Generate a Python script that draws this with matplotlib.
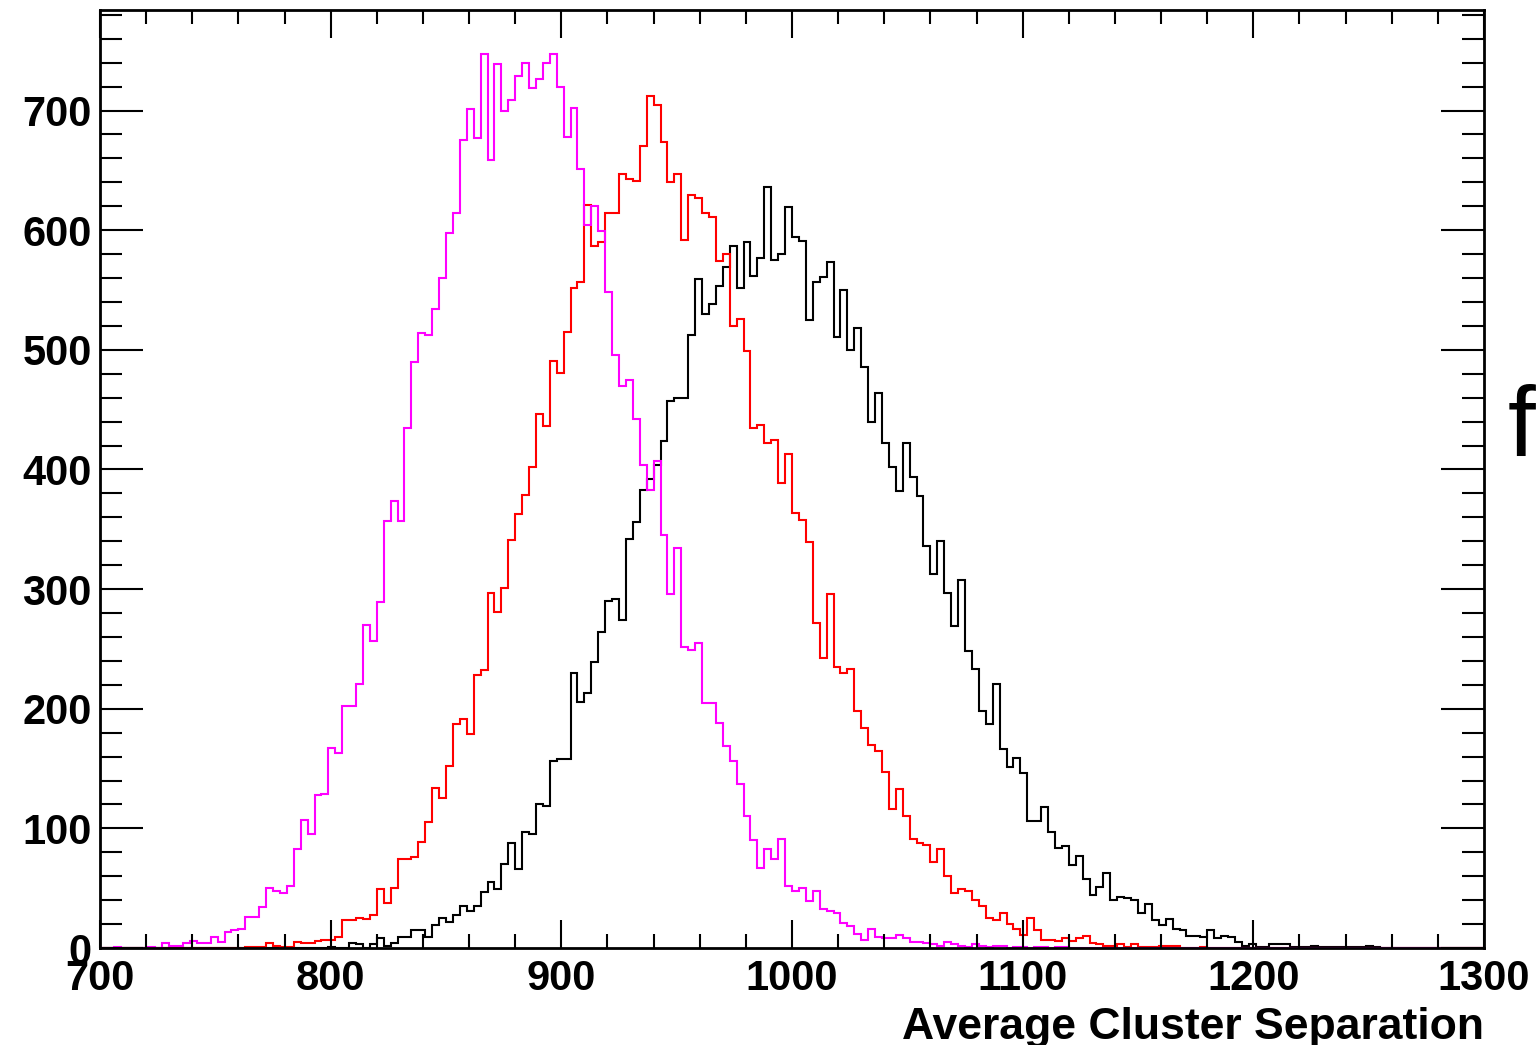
import matplotlib

matplotlib.use("Agg")
import matplotlib.pyplot as plt
import numpy as np
from matplotlib.ticker import MultipleLocator

# 200 bins of width 3 between 700 and 1300
X_MIN, X_MAX, N_BINS = 700, 1300, 200

MAGENTA = [
    0, 0, 1, 0, 0, 0, 0, 1, 0, 4,
    2, 2, 4, 6, 4, 4, 9, 5, 13, 15,
    16, 26, 26, 34, 50, 48, 46, 52, 83, 107,
    95, 128, 129, 167, 163, 202, 202, 221, 270, 257,
    289, 357, 374, 357, 435, 490, 514, 512, 534, 560,
    598, 614, 675, 701, 677, 747, 659, 739, 700, 709,
    729, 740, 719, 726, 740, 747, 720, 678, 702, 651,
    604, 620, 599, 548, 496, 470, 475, 442, 404, 383,
    407, 345, 296, 334, 252, 249, 255, 205, 205, 188,
    169, 156, 137, 110, 90, 67, 83, 74, 91, 52,
    48, 50, 39, 48, 33, 31, 29, 21, 18, 12,
    7, 16, 9, 8, 8, 11, 8, 5, 5, 4,
    3, 2, 5, 3, 2, 1, 3, 2, 1, 2,
    2, 0, 1, 1, 0, 1, 1, 0, 1, 1,
] + [0] * 60

RED = [0] * 20 + [
    0, 1, 1, 1, 4, 2, 1, 1, 5, 4,
    4, 6, 7, 7, 9, 23, 23, 25, 24, 28,
    49, 38, 50, 74, 74, 76, 89, 105, 134, 125,
    152, 187, 191, 179, 228, 232, 297, 281, 301, 341,
    363, 379, 402, 446, 436, 491, 481, 515, 552, 557,
    621, 587, 590, 614, 614, 647, 643, 641, 670, 712,
    705, 674, 640, 647, 592, 629, 627, 614, 611, 574,
    580, 520, 526, 499, 435, 437, 422, 425, 389, 413,
    364, 358, 339, 272, 242, 296, 235, 230, 233, 198,
    184, 170, 165, 147, 116, 133, 110, 91, 88, 86,
    72, 83, 60, 46, 49, 48, 40, 35, 25, 23,
    29, 20, 16, 11, 25, 15, 7, 7, 6, 8,
    6, 8, 10, 4, 3, 2, 2, 3, 1, 3,
    1, 1, 1, 2, 2, 2, 0, 0, 0, 1,
] + [0] * 40

BLACK = [0] * 30 + [
    0, 0, 0, 1, 0, 0, 4, 3, 0, 3,
    8, 2, 4, 9, 9, 15, 15, 9, 19, 25,
    22, 28, 35, 31, 35, 47, 55, 49, 70, 88,
    66, 97, 95, 120, 119, 156, 158, 158, 230, 206,
    213, 239, 264, 290, 292, 274, 342, 356, 383, 392,
    404, 424, 457, 460, 460, 512, 559, 530, 538, 553,
    569, 587, 552, 590, 562, 577, 636, 575, 580, 619,
    594, 591, 525, 557, 561, 573, 511, 550, 500, 518,
    486, 440, 464, 422, 402, 382, 422, 394, 378, 336,
    313, 340, 297, 269, 308, 248, 233, 198, 187, 221,
    166, 151, 159, 146, 106, 106, 118, 97, 84, 85,
    69, 77, 58, 44, 51, 63, 40, 43, 42, 40,
    29, 37, 23, 19, 24, 16, 15, 10, 10, 9,
    15, 8, 10, 9, 5, 2, 3, 1, 1, 3,
    3, 3, 1, 1, 1, 2, 1, 1, 1, 1,
    1, 1, 1, 2, 1,
] + [0] * 15

X_LABEL = "Average Cluster Separation"

plt.rcParams.update({
    "font.family": ["Liberation Sans", "DejaVu Sans"],
    "font.weight": "bold",
})

W, H = 1537, 1045
fig = plt.figure(figsize=(W / 100, H / 100), dpi=100)
ax = fig.add_axes([100 / W, (H - 948) / H, 1384 / W, 938 / H])

edges = np.linspace(X_MIN, X_MAX, N_BINS + 1)
for values, color in ((BLACK, "black"), (RED, "#ff0000"), (MAGENTA, "#ff00ff")):
    ax.stairs(values, edges, color=color, lw=1.5)

ax.set_xlim(X_MIN, X_MAX)
ax.set_ylim(0, 784)
ax.xaxis.set_major_locator(MultipleLocator(100))
ax.xaxis.set_minor_locator(MultipleLocator(20))
ax.yaxis.set_major_locator(MultipleLocator(100))
ax.yaxis.set_minor_locator(MultipleLocator(20))

ax.tick_params(which="both", direction="in", top=True, right=True,
               width=1.5, colors="black", labelsize=30)
ax.tick_params(axis="x", which="major", length=20, pad=8)
ax.tick_params(axis="x", which="minor", length=10)
ax.tick_params(axis="y", which="major", length=31, pad=6)
ax.tick_params(axis="y", which="minor", length=16)
for lab in ax.get_xticklabels() + ax.get_yticklabels():
    lab.set_fontweight("bold")
for spine in ax.spines.values():
    spine.set_linewidth(2.0)

fig.text(1484 / W, 6 / H, X_LABEL, ha="right", va="baseline",
         fontsize=32, fontweight="bold")
# clipped letter at the right edge of the canvas
fig.text(1508 / W, (H - 457) / H, "f", ha="left", va="baseline",
         fontsize=72, fontweight="normal")

fig.savefig("out.png", dpi=100)
